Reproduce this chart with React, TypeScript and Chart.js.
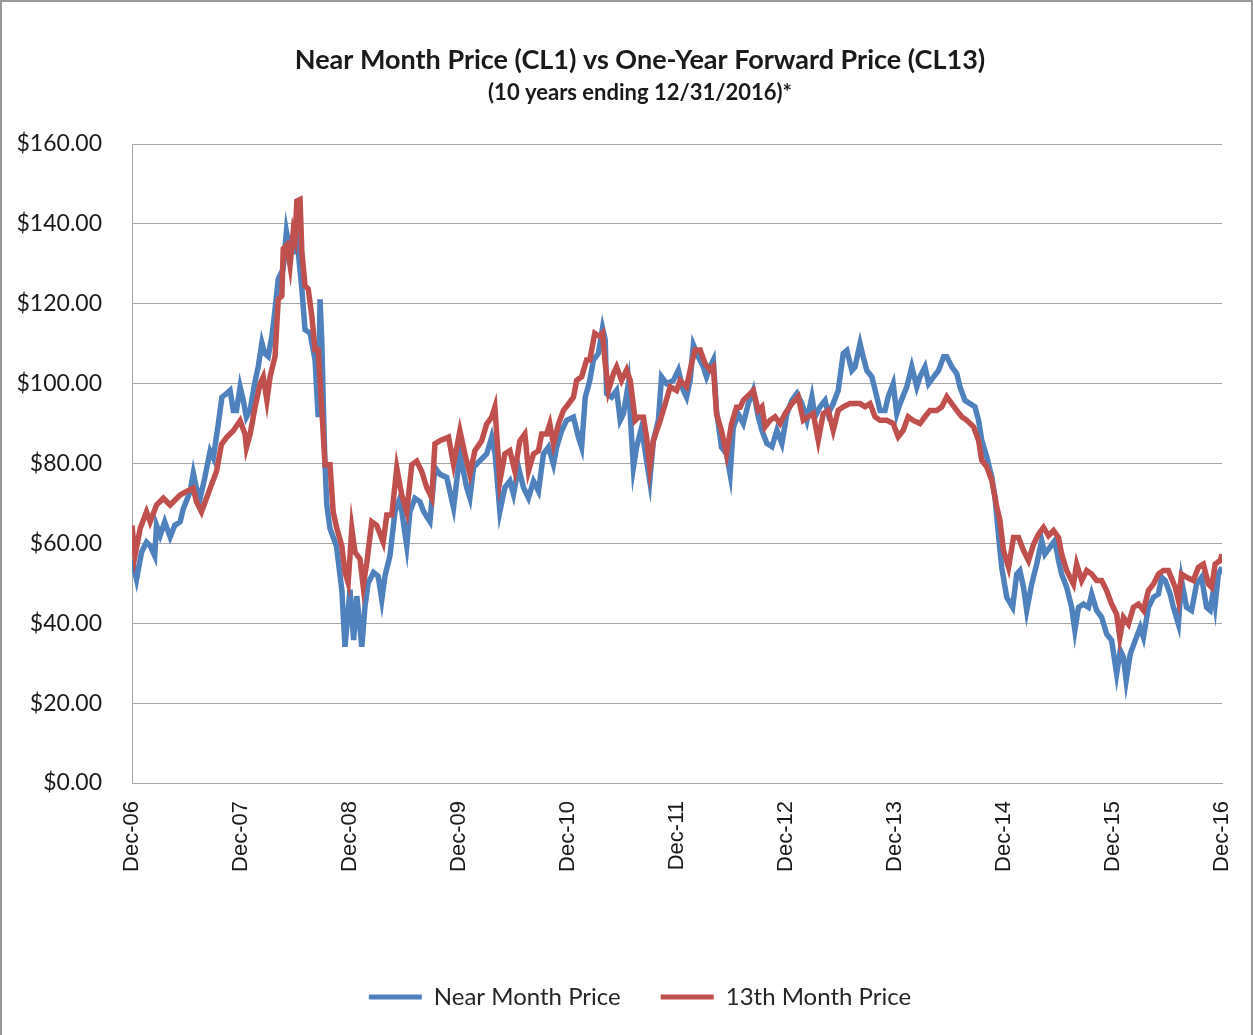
import React, { useEffect, useRef } from 'react';
import { Chart, registerables } from 'chart.js';

Chart.register(...registerables);

// x tick labels, one per year (every 12 months from Dec-06)
const xTickLabels = ['Dec-06', 'Dec-07', 'Dec-08', 'Dec-09', 'Dec-10', 'Dec-11', 'Dec-12', 'Dec-13', 'Dec-14', 'Dec-15', 'Dec-16'];

// Near Month Price (CL1): months since Dec-06, price in $
const nearMonths = [
  0, 0.5, 1.05, 1.6, 2.0, 2.5, 2.7, 3.1, 3.6, 4.2, 4.7, 5.3, 5.65, 6.4, 6.75, 7.1, 7.5, 8.0, 8.6, 8.95,
  9.5, 9.9, 10.4, 10.8, 11.15, 11.5, 11.9, 12.25, 12.6, 13.0, 13.5, 13.9, 14.3, 14.6, 15.0, 15.4, 15.75, 16.1, 16.65, 17.0,
  17.4, 17.75, 18.1, 18.3, 18.7, 19.05, 19.6, 20.15, 20.5, 20.7, 20.9, 21.1, 21.25, 21.45, 21.8, 22.5, 23.1, 23.45, 24.0, 24.4,
  24.75, 25.3, 25.65, 26.0, 26.6, 27.1, 27.5, 27.85, 28.4, 28.95, 29.5, 30.25, 30.6, 31.15, 31.7,
  32.1, 32.8, 33.35, 33.9, 34.65, 35.4, 35.75, 36.1, 36.85, 37.2, 37.6, 38.3, 39.05, 39.6, 39.97, 40.5, 41.05, 41.6, 42.0, 42.55,
  43.1, 43.65, 44.2, 44.75, 45.3, 45.85, 46.4, 46.75, 47.3, 47.85, 48.6, 49.15, 49.5, 49.9, 50.4, 50.8, 51.35, 51.8, 52.1, 52.25,
  52.8, 53.35, 53.75, 54.1, 54.65, 55.2, 55.55, 56.1, 56.65, 57.0, 57.4, 57.95, 58.3, 58.85, 59.6, 60.15, 60.7, 61.05, 61.45, 61.8,
  62.35, 62.9, 63.25, 63.65, 64.0, 64.35, 64.9, 65.45, 65.85, 66.2, 66.75,
  67.3, 67.85, 68.4, 68.95, 69.35, 69.9, 70.45, 71.0, 71.55, 72.1, 72.65, 73.2, 73.75, 74.3, 74.85, 75.2, 75.75, 76.3, 76.65, 77.2,
  77.75, 78.3, 78.7, 79.25, 79.6, 80.15, 80.5, 80.9, 81.45, 82.0, 82.35, 82.9, 83.25, 83.8, 84.2, 84.55, 85.3, 85.85, 86.4, 86.75,
  87.3, 87.7, 88.25, 88.8, 89.35, 89.7, 90.25, 90.8, 91.15, 91.7, 92.25, 92.8, 93.2, 93.55, 94.1, 94.65, 95.0, 95.4,
  95.75, 96.3, 96.95, 97.4, 97.75, 98.15, 98.5, 99.05, 99.6, 100.15, 100.5, 101.05, 101.6, 102.0, 102.35, 102.9, 103.45, 103.8, 104.2, 104.75,
  105.3, 105.65, 106.2, 106.75, 107.3, 107.85, 108.4, 108.8, 109.15, 109.45, 109.9, 110.45, 111.0, 111.35, 111.9, 112.45, 113.0, 113.35, 113.75, 114.3,
  114.65, 115.2, 115.55, 116.1, 116.65, 117.2, 117.75, 118.3, 118.7, 119.05, 119.25, 119.6, 120.0,
];
const nearPrices = [
  56, 51, 57.8, 60.3, 59.4, 56.9, 64.5, 62, 65.4, 61.6, 64.5, 65.4, 68.7, 73, 77.6, 73.8, 71.3, 76.3, 83.1, 81.4,
  89.9, 96.6, 97.5, 98.3, 93.3, 93.3, 99.2, 95.8, 91.6, 93.3, 100, 104.3, 110.2, 107.6, 106.8, 111.9, 118.6, 126.2, 128.8, 138.1,
  133, 133, 137, 133, 123.7, 113.5, 112.7, 106, 91.6, 121.1, 110.2, 91.6, 79.7, 69.6, 63.7, 59.4, 48.4, 34.1, 48.4, 35.8,
  46.8, 34.1, 44.2, 50.1, 52.7, 51.8, 45.9, 51.8, 56.9, 67.9, 71.3, 59.4, 67.9, 71.3, 70.4,
  68, 65.5, 79, 77.3, 76.5, 68.9, 75.6, 82.4, 74, 71.4, 79, 80.7, 82.4, 86.6, 82.4, 68, 74, 75.6, 72.3, 79,
  74, 71.4, 75.6, 73.1, 82.4, 84.1, 79.8, 84.1, 88.2, 90.8, 91.6, 86.6, 84.1, 96.6, 100.8, 105.9, 107.6, 113.9, 110.9, 97.5,
  96.6, 98.3, 90.8, 92.4, 100, 79, 84.1, 89, 80.7, 75.6, 85.7, 90.8, 101.7, 100, 100.8, 103.4, 98.3, 96.6, 100.8, 109.7,
  106.7, 104.2, 101.7, 104.2, 105.9, 93.3, 84.1, 82.4, 77.3, 89.1, 92.4,
  90, 95, 98.3, 91.7, 88.3, 85, 84.2, 88.3, 85, 92.5, 95.8, 97.5, 95, 90.8, 96.7, 91.7, 94.2, 95.8, 92.5, 95,
  98.3, 107.5, 108.3, 103.3, 104.2, 110, 106.7, 103.3, 101.7, 96.7, 93.3, 93.3, 96.7, 100, 92.5, 95, 99.2, 104.2, 99.2, 101.7,
  104.2, 100, 101.7, 103.3, 106.7, 106.7, 104.2, 102.5, 99.2, 95.8, 95, 94.2, 90.8, 85.8, 81.7, 76.7, 71.7, 62,
  54, 46.5, 44, 52.3, 53.2, 49, 43.2, 49.8, 54.8, 60.7, 57.3, 59, 60.7, 55.7, 52.3, 49, 44, 38.2, 44, 44.8,
  44, 47.3, 43.2, 41.5, 37.3, 35.7, 27.3, 33.2, 31.5, 25.7, 32.3, 35.7, 39, 36.5, 44, 46.5, 47.3, 51.5, 50.7, 47.3,
  44, 39.8, 50.7, 44, 43.2, 49.8, 51.5, 44, 43.2, 48.2, 44.8, 52.3, 54,
];

// 13th Month Price (CL13): months since Dec-06, price in $
const fwdMonths = [
  0, 0.33, 0.9, 1.6, 2.0, 2.7, 3.45, 4.2, 5.3, 6.0, 6.75, 7.1, 7.65, 8.2, 8.75, 9.3, 9.85, 10.4, 11.15, 11.9,
  12.45, 12.6, 13.0, 13.55, 14.1, 14.45, 14.85, 15.2, 15.75, 16.1, 16.5, 16.65, 17.05, 17.4, 17.75, 17.95, 18.15, 18.5, 18.7, 19.05,
  19.4, 19.8, 20.15, 20.5, 20.9, 21.25, 21.8, 22.15, 22.55, 23.1, 23.45, 23.8, 24.2, 24.55, 25.1, 25.45, 25.85, 26.4, 26.95, 27.65,
  28.05, 28.6, 29.15, 29.7, 30.25, 30.8, 31.35, 31.9,
  32.45, 33.0, 33.35, 33.9, 34.85, 35.4, 36.1, 36.65, 37.2, 37.75, 38.5, 39.05, 39.6, 39.95, 40.5, 41.05, 41.6, 42.15, 42.7, 43.25,
  43.65, 44.2, 44.75, 45.1, 45.65, 46.0, 46.4, 46.95, 47.5, 48.05, 48.6, 48.95, 49.5, 50.05, 50.4, 50.95, 51.5, 51.8, 52.1, 52.45,
  53.0, 53.35, 53.9, 54.45, 54.85, 55.4, 55.75, 56.3, 56.65, 57.0, 57.4, 58.15, 58.7, 59.25, 59.95, 60.35, 61.05, 61.6, 62.0, 62.55,
  63.1, 63.65, 64.0, 64.35, 64.9, 65.45, 66.0, 66.55, 66.95,
  67.3, 68.05, 68.4, 68.95, 69.35, 69.7, 70.25, 70.8, 71.35, 71.9, 72.65, 73.35, 73.9, 74.45, 75.0, 75.55, 76.1, 76.65, 77.2, 77.75,
  78.3, 79.05, 79.6, 80.15, 80.7, 81.25, 81.8, 82.35, 83.1, 83.8, 84.35, 84.9, 85.45, 86.0, 86.75, 87.3, 87.85, 88.6, 89.15, 89.7,
  90.25, 90.8, 91.35, 91.9, 92.65, 93.2, 93.55, 94.1, 94.65, 95.2, 95.55,
  95.95, 96.5, 97.05, 97.6, 98.15, 98.7, 99.25, 99.8, 100.35, 100.9, 101.45, 102.0, 102.35, 102.9, 103.65, 104.0, 104.55, 105.1, 105.65, 106.2,
  106.75, 107.3, 107.85, 108.4, 108.75, 109.15, 109.7, 110.25, 110.8, 111.35, 111.9, 112.45, 113.0, 113.55, 114.1, 114.85, 115.2, 115.55, 116.1, 116.85,
  117.4, 117.95, 118.5, 118.85, 119.25, 119.8, 120.0,
];
const fwdPrices = [
  64.5, 56.9, 63.7, 67.9, 65.4, 69.6, 71.3, 69.6, 72.1, 73, 73.8, 70.4, 67.9, 71.3, 74.7, 78, 84.8, 86.5, 88.2, 90.7,
  87.3, 84, 87.3, 94.1, 100, 101.7, 95.8, 101.7, 106.8, 121.1, 122, 133.8, 134.7, 129.6, 138.1, 136.4, 145.7, 146.1, 133, 124.5,
  123.7, 116.9, 108.5, 108.5, 93.3, 79.7, 79.7, 67.9, 63.7, 59.4, 52.7, 50.1, 63.7, 57.8, 56.1, 49.3, 55.2, 65.4, 64.5, 60.3,
  67.1, 67.1, 78.9, 72.1, 67.9, 79.7, 80.6, 78,
  74, 71.4, 84.9, 85.7, 86.6, 79.8, 88.2, 82.4, 77.3, 83.2, 85.7, 89.9, 91.6, 94.1, 75.6, 82.4, 83.2, 78.1, 85.7, 87.4,
  78.1, 82.4, 83.2, 87.4, 87.4, 89.9, 84.9, 89.9, 93.3, 94.9, 96.6, 100.8, 101.7, 105.9, 105.9, 112.6, 111.8, 112.6, 105, 98.3,
  102.5, 104.2, 100.8, 103.4, 100.8, 90.8, 91.6, 91.6, 86.6, 79, 85.7, 90.8, 94.9, 99.2, 98.3, 100.8, 99.2, 105, 108.4, 108.4,
  105, 103.4, 104.2, 92.4, 88.2, 82.4, 89.9, 94.1, 94.1,
  95.8, 97.5, 98.3, 93.3, 94.2, 89.2, 90.8, 91.7, 90, 92.5, 95, 96.7, 90.8, 91.7, 92.5, 85.8, 92.5, 93.3, 88.3, 93.3,
  94.2, 95, 95, 95, 94.2, 95, 91.7, 90.8, 90.8, 90, 86.7, 88.3, 91.7, 90.8, 90, 91.7, 93.3, 93.3, 94.2, 96.7,
  95, 93.3, 91.7, 90.8, 89.2, 85.8, 80.8, 79.2, 75.8, 69.2, 65.8,
  58.2, 54, 61.5, 61.5, 58.2, 55.7, 59.8, 62.3, 64, 61.9, 63.2, 61.5, 57.3, 53.2, 49.8, 54.8, 50.7, 53.2, 52.3, 50.7,
  50.7, 48.2, 44.8, 42.3, 36.5, 41.5, 39.8, 44, 44.8, 43.2, 48.2, 49.8, 52.3, 53.2, 53.2, 49, 45.7, 52.3, 51.5, 50.7,
  54, 54.8, 49.8, 49, 54.8, 55.7, 57.3,
];

const seriesNames = ['Near Month Price', '13th Month Price'];
const seriesColors = ['#4F81BD', '#C0504D'];

const W = 1253;
const H = 1035;

export default function App() {
  const canvasRef = useRef<HTMLCanvasElement | null>(null);

  useEffect(() => {
    document.body.style.margin = '0';
    const canvas = canvasRef.current;
    if (!canvas) return;

    const framePlugin = {
      id: 'frame',
      beforeDraw(chart: any) {
        const ctx = chart.ctx;
        ctx.save();
        ctx.fillStyle = '#ffffff';
        ctx.fillRect(0, 0, chart.width, chart.height);
        ctx.restore();
      },
      afterDraw(chart: any) {
        const ctx = chart.ctx;
        ctx.save();
        ctx.strokeStyle = '#9a9a9a';
        ctx.lineWidth = 2;
        ctx.strokeRect(1, 1, chart.width - 2, chart.height + 10);
        ctx.restore();
      },
    };

    const toPoints = (xs: number[], ys: number[]) => xs.map((x, i) => ({ x, y: ys[i] }));

    const chart = new Chart(canvas, {
      type: 'line',
      data: {
        datasets: [
          {
            label: seriesNames[0],
            data: toPoints(nearMonths, nearPrices),
            borderColor: seriesColors[0],
            backgroundColor: seriesColors[0],
            borderWidth: 5.5,
            pointRadius: 0,
            tension: 0,
            order: 1,
          },
          {
            label: seriesNames[1],
            data: toPoints(fwdMonths, fwdPrices),
            borderColor: seriesColors[1],
            backgroundColor: seriesColors[1],
            borderWidth: 5.5,
            pointRadius: 0,
            tension: 0,
            order: 0,
          },
        ],
      },
      options: {
        responsive: false,
        animation: false,
        devicePixelRatio: 1,
        layout: { padding: { left: 58, right: 31, top: 0, bottom: 16 } },
        plugins: {
          title: {
            display: true,
            text: 'Near Month Price (CL1) vs One-Year Forward Price (CL13)',
            color: '#1a1a1a',
            font: { family: 'Lato', size: 27, weight: 'bold' },
            padding: { top: 43.8, bottom: 0 },
          },
          subtitle: {
            display: true,
            text: '(10 years ending 12/31/2016)*',
            color: '#1a1a1a',
            font: { family: 'Lato', size: 22, weight: 'bold' },
            padding: { top: 3.6, bottom: 37.8 },
          },
          legend: {
            display: true,
            position: 'bottom',
            labels: {
              boxWidth: 53,
              boxHeight: 5,
              padding: 40,
              color: '#262626',
              font: { family: 'Lato', size: 24 },
              generateLabels: (c: any) =>
                Chart.defaults.plugins.legend.labels
                  .generateLabels(c)
                  .map((l: any) => ({ ...l, lineWidth: 0 })),
              sort: (a: any, b: any) => a.datasetIndex - b.datasetIndex,
            },
          },
          tooltip: { enabled: false },
        },
        scales: {
          x: {
            type: 'linear',
            min: 0,
            max: 120,
            grid: { display: false, drawTicks: false },
            border: { display: true, color: '#a6a6a6', width: 1 },
            ticks: {
              stepSize: 12,
              autoSkip: false,
              maxRotation: 90,
              minRotation: 90,
              padding: 18,
              color: '#1a1a1a',
              font: { family: 'Liberation Sans', size: 22 },
              callback: (v: any) => {
                const i = Math.round(Number(v) / 12);
                return Number(v) % 12 === 0 ? xTickLabels[i] : '';
              },
            },
            afterFit: (s: any) => {
              s.height = 162;
              s.paddingLeft = 0;
              s.paddingRight = 0;
            },
          },
          y: {
            type: 'linear',
            min: 0,
            max: 160,
            grid: { color: '#a6a6a6', lineWidth: 1, drawTicks: false },
            border: { display: true, color: '#a6a6a6', width: 1 },
            ticks: {
              stepSize: 20,
              padding: 30,
              color: '#1a1a1a',
              font: { family: 'Lato', size: 23 },
              callback: (v: any) => '$' + Number(v).toFixed(2),
            },
            afterFit: (s: any) => {
              s.width = 132 - 58;
              s.paddingTop = 0;
              s.paddingBottom = 0;
              // let the tick labels extend left of the (narrow) axis box
              s._computeLabelArea = () => undefined;
            },
          },
        },
      },
      plugins: [framePlugin],
    } as any);

    return () => chart.destroy();
  }, []);

  return (
    <div style={{ width: W, height: H }}>
      <canvas ref={canvasRef} width={W} height={H} style={{ display: 'block' }} />
    </div>
  );
}
